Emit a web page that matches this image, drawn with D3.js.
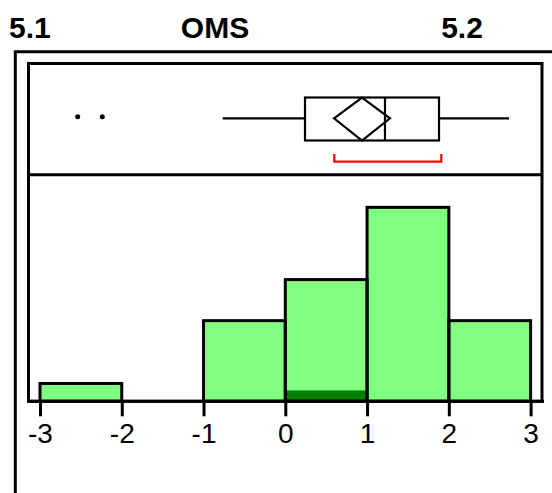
<!DOCTYPE html>
<html>
<head>
<meta charset="utf-8">
<script src="https://cdn.jsdelivr.net/npm/d3@7"></script>
<style>
  html, body { margin: 0; padding: 0; background: #fff; }
  svg { display: block; }
  text { font-family: "Liberation Sans", Arial, sans-serif; }
</style>
</head>
<body>
<svg id="chart" width="552" height="493"></svg>
<script>
// ---- data ----
const titleLeft = "5.1";
const titleMid = "OMS";
const titleRight = "5.2";
const binEdges = [-3, -2, -1, 0, 1, 2, 3];
const binPercents = [3.6, 0, 16.3, 24.6, 39.2, 16.3];      // histogram bar heights
const selectedPercents = [0, 0, 0, 2.2, 0, 0];             // highlighted (dark) portion
const tickValues = [-3, -2, -1, 0, 1, 2, 3];
const boxStats = { whiskerLow: -0.766, q1: 0.241, median: 1.219, q3: 1.880, whiskerHigh: 2.736 };
const meanDiamond = { mean: 0.938, lower: 0.596, upper: 1.280 };
const outliers = [-2.539, -2.238];
const shortestHalf = [0.599, 1.908];

// ---- layout ----
const svg = d3.select("#chart");
const frameL = 28.5, frameR = 542, frameT = 63.5, divY = 174.7, axisY = 401.3;
const x = d3.scaleLinear().domain([-3, 3]).range([40, 530.6]);
const y = d3.scaleLinear().domain([0, 45.8]).range([axisY, divY]);

// titles
const titleStyle = sel => sel.style("font-size", "30px").style("font-weight", "bold")
  .style("font-family", "'Liberation Sans', Arial, sans-serif");
svg.append("text").attr("x", 9).attr("y", 38).call(titleStyle).text(titleLeft);
svg.append("text").attr("x", 215).attr("y", 38).attr("text-anchor", "middle").call(titleStyle).text(titleMid);
svg.append("text").attr("x", 462).attr("y", 38).attr("text-anchor", "middle").call(titleStyle).text(titleRight);

// outer frame
svg.append("path").attr("d", `M15.3,493 V51.7 H552`).attr("fill", "none").attr("stroke", "#000").attr("stroke-width", 3);

// histogram bars
const bins = binPercents.map((v, i) => ({ x0: binEdges[i], x1: binEdges[i + 1], v, s: selectedPercents[i] }));
const g = svg.append("g");
g.selectAll("rect.bar").data(bins.filter(d => d.v > 0)).join("rect")
  .attr("class", "bar")
  .attr("x", d => x(d.x0)).attr("width", d => x(d.x1) - x(d.x0))
  .attr("y", d => y(d.v)).attr("height", d => y(0) - y(d.v))
  .attr("fill", "#80ff80");
g.selectAll("rect.sel").data(bins.filter(d => d.s > 0)).join("rect")
  .attr("class", "sel")
  .attr("x", d => x(d.x0)).attr("width", d => x(d.x1) - x(d.x0))
  .attr("y", d => y(d.s)).attr("height", d => y(0) - y(d.s))
  .attr("fill", "#008000");
g.selectAll("rect.barline").data(bins.filter(d => d.v > 0)).join("rect")
  .attr("class", "barline")
  .attr("x", d => x(d.x0)).attr("width", d => x(d.x1) - x(d.x0))
  .attr("y", d => y(d.v)).attr("height", d => y(0) - y(d.v))
  .attr("fill", "none").attr("stroke", "#000").attr("stroke-width", 3);

// inner frame + divider
svg.append("rect").attr("x", frameL).attr("y", frameT).attr("width", frameR - frameL).attr("height", axisY - frameT)
  .attr("fill", "none").attr("stroke", "#000").attr("stroke-width", 3);
svg.append("line").attr("x1", frameL).attr("x2", frameR).attr("y1", divY).attr("y2", divY)
  .attr("stroke", "#000").attr("stroke-width", 3);

// axis
const axis = d3.axisBottom(x).tickValues(tickValues).tickSize(15).tickPadding(7).tickFormat(d3.format("d"));
const ag = svg.append("g").attr("transform", `translate(0,${axisY})`).call(axis);
ag.attr("font-size", null).attr("font-family", null);
ag.select(".domain").attr("d", `M${frameL},0H544`).attr("stroke", "#000").attr("stroke-width", 3);
ag.selectAll(".tick line").attr("stroke", "#000").attr("stroke-width", 3);
ag.selectAll(".tick text").style("font-size", "28px").attr("fill", "#000")
  .style("font-family", "'Liberation Sans', Arial, sans-serif")
  .text(d => d < 0 ? "-" + Math.abs(d) : String(d));

// box plot
const cy = 118.3, bt = 97.5, bb = 140.5;
const bp = svg.append("g").attr("stroke", "#000").attr("stroke-width", 2.2).attr("fill", "none");
bp.append("line").attr("x1", x(boxStats.whiskerLow)).attr("x2", x(boxStats.q1)).attr("y1", cy).attr("y2", cy);
bp.append("line").attr("x1", x(boxStats.q3)).attr("x2", x(boxStats.whiskerHigh)).attr("y1", cy).attr("y2", cy);
bp.append("rect").attr("x", x(boxStats.q1)).attr("y", bt).attr("width", x(boxStats.q3) - x(boxStats.q1)).attr("height", bb - bt);
bp.append("line").attr("x1", x(boxStats.median)).attr("x2", x(boxStats.median)).attr("y1", bt).attr("y2", bb);
bp.append("path").attr("d",
  `M${x(meanDiamond.lower)},${cy} L${x(meanDiamond.mean)},${bt} L${x(meanDiamond.upper)},${cy} L${x(meanDiamond.mean)},${bb} Z`);

svg.selectAll("circle.out").data(outliers).join("circle")
  .attr("class", "out").attr("cx", d => x(d)).attr("cy", 116.7).attr("r", 2.5).attr("fill", "#000");

svg.append("path").attr("d",
  `M${x(shortestHalf[0])},154 V161.7 H${x(shortestHalf[1])} V154`)
  .attr("fill", "none").attr("stroke", "#ff0000").attr("stroke-width", 2.2);
</script>
</body>
</html>
